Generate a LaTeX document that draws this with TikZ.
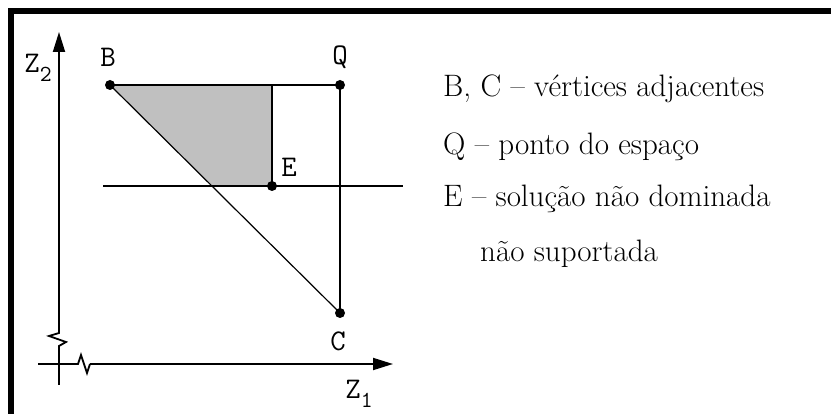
\documentclass[tikz,border=0pt]{standalone}
\usepackage{fontspec}
\usetikzlibrary{arrows.meta}
\definecolor{regiongray}{RGB}{192,192,192}
\newcommand{\lblsub}[1]{\raisebox{-0.3em}{\fontsize{23}{23}\selectfont #1}}
\tikzset{
  dot/.style={circle,fill=black,inner sep=0pt,minimum size=10pt},
  lbl/.style={font=\ttfamily\fontsize{30}{30}\selectfont,inner sep=0pt},
  legend/.style={font=\fontsize{31}{32}\selectfont,anchor=base west,inner sep=0pt},
  axis/.style={line width=1.8pt,-{Triangle[length=20pt,width=12pt]}},
  edge/.style={line width=1.8pt},
}
\begin{document}
\begin{tikzpicture}[x=1pt,y=-1pt]
\useasboundingbox (0,0) rectangle (831,414);
% frame
\draw[line width=5.5pt] (11,420) -- (11,11) -- (840,11);
% points
\coordinate (B) at (110,85);
\coordinate (Q) at (340,85);
\coordinate (C) at (340,313);
\coordinate (E) at (272,186);
\coordinate (T) at (272,85);
\coordinate (F) at (212,186);
\coordinate (hL) at (103,186);
\coordinate (hR) at (403,186);
% shaded region
\fill[regiongray] (B) -- (T) -- (E) -- (F) -- cycle;
% lines
\draw[edge] (B) -- (Q) -- (C);
\draw[edge] (T) -- (E);
\draw[line width=1.2pt] (B) -- (C);
\draw[line width=1.5pt] (hL) -- (hR);
% axes
\coordinate (y0) at (59,385);
\coordinate (y1) at (59,346);
\coordinate (y2) at (59,326);
\coordinate (yt) at (59,32);
\coordinate (x0) at (38,364);
\coordinate (x1) at (78,364);
\coordinate (x2) at (90,364);
\coordinate (xt) at (393,364);
\draw[line width=1.8pt] (y0) -- (y1) -- (66,342) -- (49,336) -- (59,333) -- (y2);
\draw[axis] (y2) -- (yt);
\draw[line width=1.8pt] (x0) -- (x1) -- (81,355) -- (87,373) -- (x2);
\draw[axis] (x2) -- (xt);
% dots
\node[dot] (b) at (B) {};
\node[dot] (q) at (Q) {};
\node[dot] (c) at (C) {};
\node[dot] (e) at (E) {};
% labels
\node[lbl] (lb) at (108,57) {B};
\node[lbl] (lq) at (340,57) {Q};
\node[lbl] (lc) at (338,341) {C};
\node[lbl] (le) at (289,167) {E};
\node[lbl] (lz2) at (38,68) {Z\lblsub{2}};
\node[lbl] (lz1) at (359,394) {Z\lblsub{1}};
% legend
\node[legend] (t1) at (443,97) {B, C – vértices adjacentes};
\node[legend] (t2) at (443,155) {Q – ponto do espaço};
\node[legend] (t3) at (443,207) {E – solução não dominada};
\node[legend] (t4) at (480,262) {não suportada};
\end{tikzpicture}
\end{document}
